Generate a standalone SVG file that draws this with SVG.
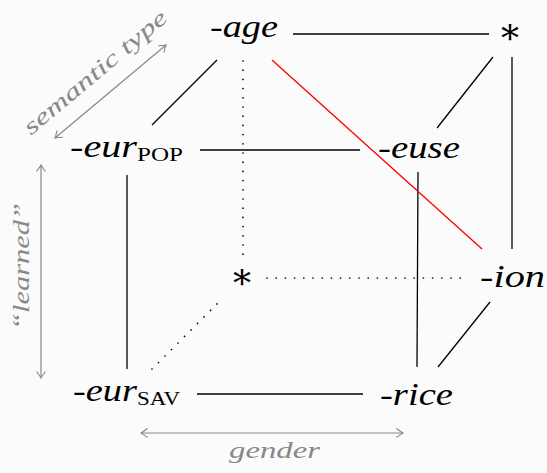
<svg xmlns="http://www.w3.org/2000/svg" width="547" height="473" viewBox="0 0 547 473">
<style>
.lbl{font-family:"Liberation Serif",serif;font-size:32px;fill:#000}
.it{font-style:italic}
.sub{font-family:"Liberation Serif",serif;font-size:19px;fill:#000}
.ast{font-family:"DejaVu Serif",serif;font-size:36px;fill:#000}
.edge{stroke:#000;stroke-width:1.3;fill:none}
.red{stroke:#f00;stroke-width:1.3;fill:none}
.dot{stroke:#000;stroke-width:1.7;fill:none;stroke-linecap:round;stroke-dasharray:0 9.2}
.gray{stroke:#888;stroke-width:1.2;fill:none;marker-start:url(#ah);marker-end:url(#ah)}
.glbl{font-family:"Liberation Serif",serif;font-style:italic;font-size:23px;fill:#888}
</style>
<defs>
<marker id="ah" viewBox="-9 -6 11 12" refX="0" refY="0" markerWidth="11" markerHeight="12" markerUnits="userSpaceOnUse" orient="auto-start-reverse">
<path d="M-6.5,-4.5 Q-2,-1 0,0 Q-2,1 -6.5,4.5" fill="none" stroke="#888" stroke-width="1.1"/>
</marker>
</defs>
<rect width="547" height="473" fill="#fbfbfb"/>
<g id="connectors">
<line class="edge" x1="293" y1="34" x2="489" y2="34"/>
<line class="edge" x1="217" y1="60" x2="152" y2="125"/>
<line class="edge" x1="493" y1="57" x2="437" y2="128"/>
<line class="edge" x1="512" y1="57" x2="512" y2="249"/>
<line class="edge" x1="200" y1="150" x2="360" y2="150"/>
<line class="edge" x1="127" y1="175" x2="127" y2="369"/>
<line class="edge" x1="418" y1="172" x2="417" y2="367"/>
<line class="edge" x1="490" y1="302" x2="438" y2="367"/>
<line class="edge" x1="197" y1="394" x2="363" y2="394"/>
<line class="red" x1="272" y1="60" x2="482" y2="249"/>
<line class="dot" x1="243" y1="61" x2="243" y2="255"/>
<line class="dot" x1="267" y1="278" x2="462" y2="278"/>
<line class="dot" x1="152" y1="369" x2="218" y2="303"/>
<line class="gray" x1="55" y1="138" x2="166" y2="45"/>
<line class="gray" x1="41" y1="165" x2="41" y2="378"/>
<line class="gray" x1="141" y1="433" x2="403" y2="433"/>
</g>
<g id="node-age"><text class="lbl" x="210" y="37" textLength="68" lengthAdjust="spacingAndGlyphs">-<tspan class="it">age</tspan></text></g>
<g id="node-star-top"><text class="ast" x="510" y="51" text-anchor="middle">*</text></g>
<g id="node-eur-pop"><text class="lbl" x="70" y="157" textLength="67" lengthAdjust="spacingAndGlyphs">-<tspan class="it">eur</tspan></text><text class="sub" x="137" y="161" textLength="46" lengthAdjust="spacingAndGlyphs">POP</text></g>
<g id="node-euse"><text class="lbl" x="378" y="158" textLength="82" lengthAdjust="spacingAndGlyphs">-<tspan class="it">euse</tspan></text></g>
<g id="node-star-back"><text class="ast" x="242" y="296" text-anchor="middle">*</text></g>
<g id="node-ion"><text class="lbl" x="480" y="287" textLength="65" lengthAdjust="spacingAndGlyphs">-<tspan class="it">ion</tspan></text></g>
<g id="node-eur-sav"><text class="lbl" x="73" y="401" textLength="64" lengthAdjust="spacingAndGlyphs">-<tspan class="it">eur</tspan></text><text class="sub" x="137" y="405" textLength="43" lengthAdjust="spacingAndGlyphs">SAV</text></g>
<g id="node-rice"><text class="lbl" x="380" y="405" textLength="73" lengthAdjust="spacingAndGlyphs">-<tspan class="it">rice</tspan></text></g>
<g id="axis-labels">
<text class="glbl" transform="translate(100,78) rotate(-40)" text-anchor="middle" textLength="180" lengthAdjust="spacingAndGlyphs">semantic type</text>
<text class="glbl" transform="translate(29,266.5) rotate(-90)" text-anchor="middle" textLength="127" lengthAdjust="spacingAndGlyphs">“learned”</text>
<text class="glbl" x="229" y="458" textLength="91" lengthAdjust="spacingAndGlyphs">gender</text>
</g>
</svg>
